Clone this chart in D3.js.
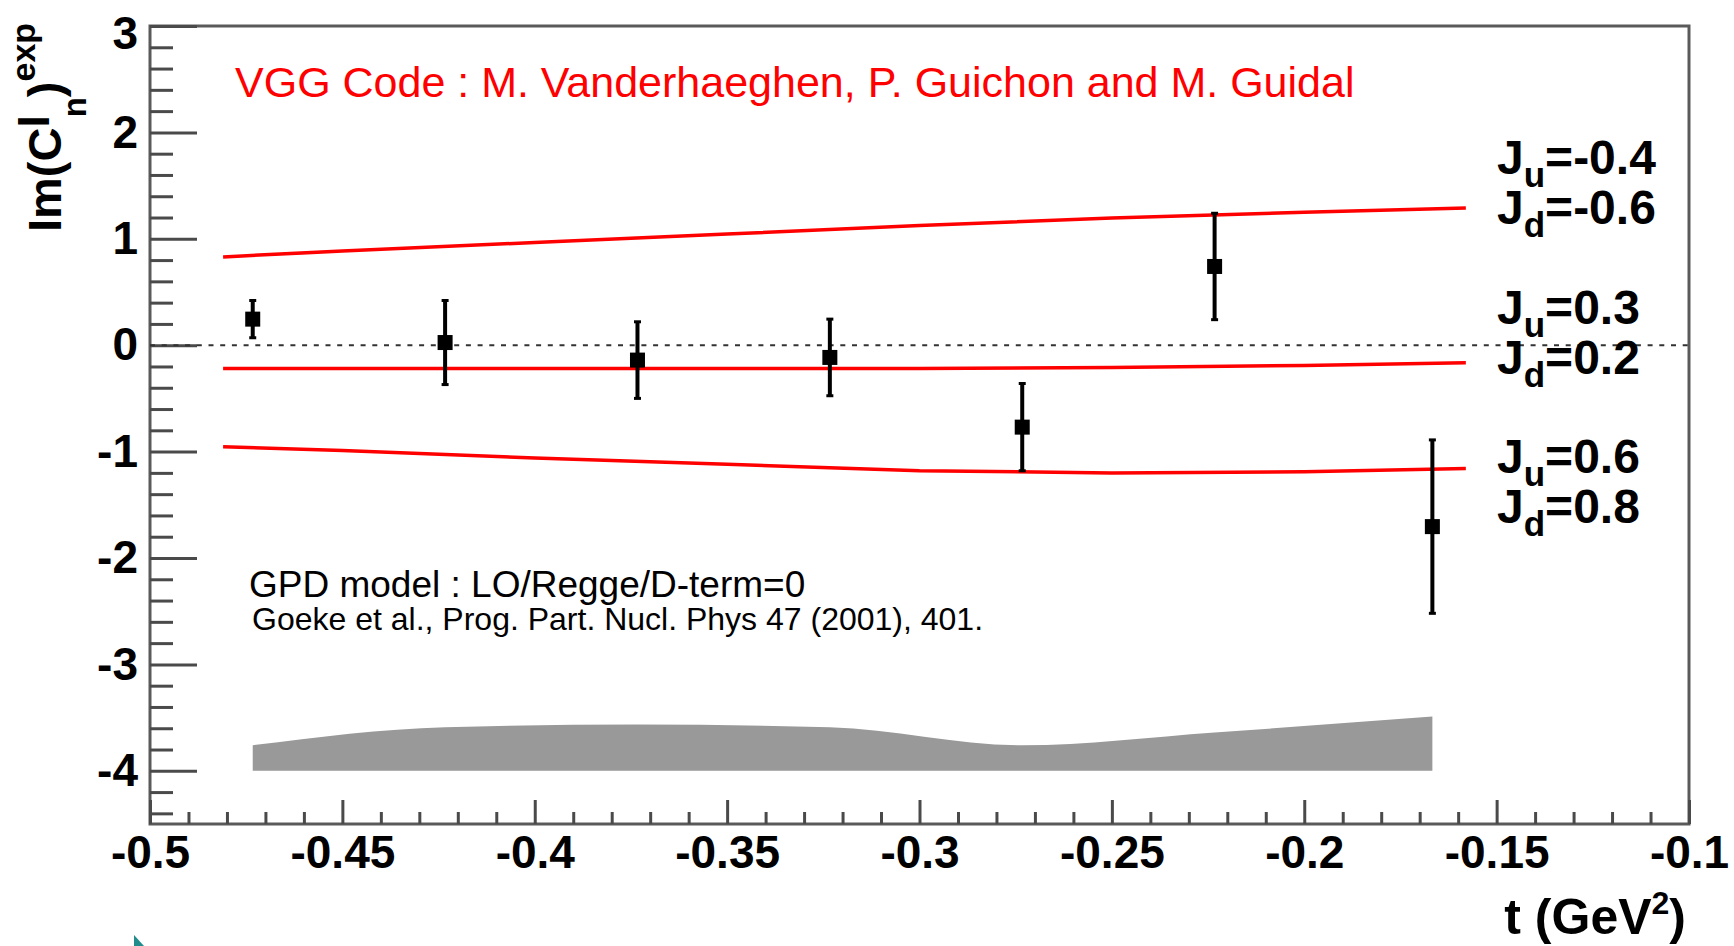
<!DOCTYPE html>
<html>
<head>
<meta charset="utf-8">
<script src="https://cdn.jsdelivr.net/npm/d3@7"></script>
<style>
  html, body { margin: 0; padding: 0; background: #fff; }
  svg { display: block; }
  text { font-family: "Liberation Sans", Arial, Helvetica, sans-serif; }
</style>
</head>
<body>
<svg id="chart" width="1734" height="946"></svg>
<script>
// Measured points: t (GeV^2), Im(C^I_n)^exp and statistical error
const tPoints = [-0.4733, -0.4233, -0.3733, -0.3233, -0.2733, -0.2233, -0.1667];
const imC     = [0.245, 0.025, -0.14, -0.115, -0.77, 0.74, -1.705];
const imCErr  = [0.175, 0.395, 0.36, 0.36, 0.41, 0.50, 0.815];

// Systematic-error band (top edge at each point, bottom edge at the baseline)
const sysTop  = [-3.76, -3.59, -3.565, -3.59, -3.76, -3.64, -3.49];
const sysBase = -4;

// VGG model curves on a common t grid
const curveT  = [-0.481, -0.45, -0.40, -0.35, -0.30, -0.25, -0.20, -0.158];
const vggA    = [0.83, 0.885, 0.965, 1.045, 1.125, 1.195, 1.25, 1.29];     // Ju=-0.4, Jd=-0.6
const vggB    = [-0.22, -0.22, -0.22, -0.22, -0.22, -0.21, -0.19, -0.166]; // Ju=0.3,  Jd=0.2
const vggC    = [-0.955, -0.99, -1.06, -1.12, -1.18, -1.20, -1.19, -1.16]; // Ju=0.6,  Jd=0.8

// Curve labels: [Ju, Jd]
const curveLabels = [["-0.4", "-0.6"], ["0.3", "0.2"], ["0.6", "0.8"]];

// Axis ticks
const xMajor = [-0.5, -0.45, -0.4, -0.35, -0.3, -0.25, -0.2, -0.15, -0.1];
const yMajor = [-4, -3, -2, -1, 0, 1, 2, 3];

const svg = d3.select("#chart");
const x = d3.scaleLinear().domain([-0.5, -0.1]).range([150, 1689]);
const y = d3.scaleLinear().domain([-4.5, 3]).range([824, 26]);

const xMinor = d3.range(-0.5, -0.0999, 0.01).map(v => +v.toFixed(3))
  .filter(v => !xMajor.some(m => Math.abs(m - v) < 1e-6));
const yMinor = d3.range(-4.4, 2.9, 0.2).map(v => +v.toFixed(2))
  .filter(v => !yMajor.some(m => Math.abs(m - v) < 1e-6));

const tickFmt = d => String(+d.toFixed(2));

// Systematic band
const band = d3.area()
  .x((d, i) => x(tPoints[i]))
  .y0(() => y(sysBase))
  .y1(d => y(d))
  .curve(d3.curveMonotoneX);
svg.append("path").datum(sysTop)
  .attr("d", band)
  .attr("fill", "#999999");

// Frame
svg.append("rect")
  .attr("x", x(-0.5)).attr("y", y(3))
  .attr("width", x(-0.1) - x(-0.5)).attr("height", y(-4.5) - y(3))
  .attr("fill", "none").attr("stroke", "#5a5a5a").attr("stroke-width", 3);

// Y axis: major ticks with labels, minor ticks
const yAxisG = svg.append("g").attr("transform", `translate(${x(-0.5)},0)`)
  .call(d3.axisLeft(y).tickValues(yMajor).tickFormat(tickFmt)
    .tickSizeInner(-47).tickSizeOuter(0).tickPadding(12));
svg.append("g").attr("transform", `translate(${x(-0.5)},0)`)
  .call(d3.axisLeft(y).tickValues(yMinor).tickFormat("")
    .tickSizeInner(-23).tickSizeOuter(0));
// the top label sits a little below its tick so it stays inside the page
yAxisG.selectAll(".tick").filter(d => d === 3).select("text").attr("y", 8);

// X axis: major ticks with labels, minor ticks
const xAxisG = svg.append("g").attr("transform", `translate(0,${y(-4.5)})`)
  .call(d3.axisBottom(x).tickValues(xMajor).tickFormat(tickFmt)
    .tickSizeInner(-24).tickSizeOuter(0).tickPadding(11));
svg.append("g").attr("transform", `translate(0,${y(-4.5)})`)
  .call(d3.axisBottom(x).tickValues(xMinor).tickFormat("")
    .tickSizeInner(-12).tickSizeOuter(0));

svg.selectAll(".domain").remove();
svg.selectAll(".tick line").attr("stroke", "#4a4a4a").attr("stroke-width", 3);
svg.selectAll(".tick text")
  .attr("fill", "#000")
  .style("font-family", '"Liberation Sans", Arial, sans-serif')
  .style("font-weight", "bold")
  .style("font-size", "46px");

// Zero reference line
svg.append("line")
  .attr("x1", x(-0.5)).attr("x2", x(-0.1))
  .attr("y1", y(0)).attr("y2", y(0))
  .attr("stroke", "#333").attr("stroke-width", 2)
  .attr("stroke-dasharray", "5,6.7");

// Model curves
const line = d3.line().x((d, i) => x(curveT[i])).y(d => y(d));
[vggA, vggB, vggC].forEach(c => {
  svg.append("path").datum(c)
    .attr("d", line)
    .attr("fill", "none")
    .attr("stroke", "#ff0000")
    .attr("stroke-width", 3.5);
});

// Data points with error bars
const pts = svg.append("g");
tPoints.forEach((t, i) => {
  const cx = x(t);
  const yTop = y(imC[i] + imCErr[i]);
  const yBot = y(imC[i] - imCErr[i]);
  pts.append("line").attr("x1", cx).attr("x2", cx).attr("y1", yTop).attr("y2", yBot)
    .attr("stroke", "#000").attr("stroke-width", 4);
  [yTop, yBot].forEach(yy => {
    pts.append("line").attr("x1", cx - 3.5).attr("x2", cx + 3.5).attr("y1", yy).attr("y2", yy)
      .attr("stroke", "#000").attr("stroke-width", 3);
  });
  pts.append("rect")
    .attr("x", cx - 7.5).attr("y", y(imC[i]) - 7.5)
    .attr("width", 15).attr("height", 15)
    .attr("fill", "#000");
});

// Model annotation
svg.append("text")
  .attr("x", 235).attr("y", 97)
  .attr("fill", "#ff0000")
  .style("font-size", "43px")
  .text("VGG Code : M. Vanderhaeghen, P. Guichon and M. Guidal");

svg.append("text")
  .attr("x", 249).attr("y", 597)
  .attr("fill", "#000")
  .style("font-size", "37px")
  .text("GPD model : LO/Regge/D-term=0");

svg.append("text")
  .attr("x", 252).attr("y", 630)
  .attr("fill", "#000")
  .style("font-size", "32px")
  .text("Goeke et al., Prog. Part. Nucl. Phys 47 (2001), 401.");

// Curve labels (Ju / Jd pairs)
const labelBase = [174, 324, 473];
curveLabels.forEach((pair, k) => {
  [["u", pair[0]], ["d", pair[1]]].forEach((entry, j) => {
    const t = svg.append("text")
      .attr("x", 1497).attr("y", labelBase[k] + 50 * j)
      .attr("fill", "#000")
      .style("font-weight", "bold")
      .style("font-size", "48px");
    t.append("tspan").text("J");
    t.append("tspan").attr("dy", 13).style("font-size", "35px").text(entry[0]);
    t.append("tspan").attr("dy", -13).text("=" + entry[1]);
  });
});

// Axis titles
const xt = svg.append("text")
  .attr("x", 1686).attr("y", 934)
  .attr("text-anchor", "end")
  .attr("fill", "#000")
  .style("font-weight", "bold")
  .style("font-size", "50px");
xt.append("tspan").text("t (GeV");
xt.append("tspan").attr("dy", -20).style("font-size", "32px").text("2");
xt.append("tspan").attr("dy", 20).text(")");

const yt = svg.append("text")
  .attr("transform", "translate(61,232) rotate(-90)")
  .attr("fill", "#000")
  .style("font-weight", "bold")
  .style("font-size", "47px");
yt.append("tspan").text("Im(C");
yt.append("tspan").attr("dy", -12).style("font-size", "44px").text("I");
yt.append("tspan").attr("dy", 37).attr("dx", -2).style("font-size", "33px").text("n");
yt.append("tspan").attr("dy", -25).text(")");
yt.append("tspan").attr("dy", -26).style("font-size", "34px").text("exp");

// Corner marker
svg.append("path")
  .attr("d", "M134,935 L134,946 L144,946 Z")
  .attr("fill", "#218c8c");
</script>
</body>
</html>
